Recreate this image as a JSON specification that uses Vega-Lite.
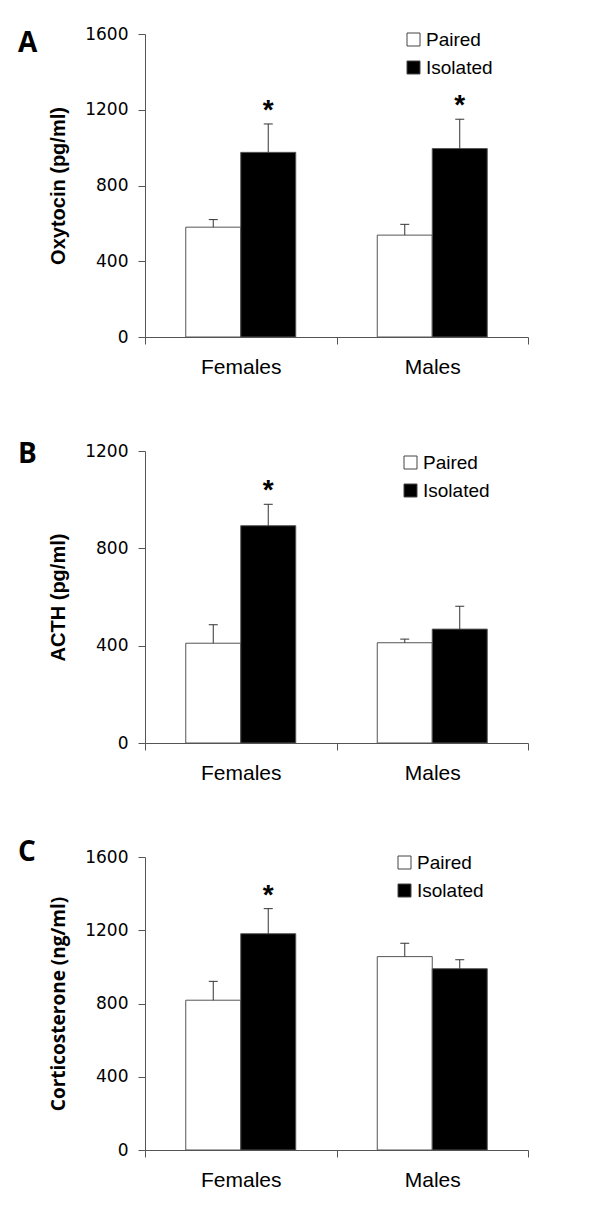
{
  "$schema": "https://vega.github.io/schema/vega-lite/v6.json",
  "background": "white",
  "padding": {"left": 18, "top": 25, "right": 5, "bottom": 5},
  "autosize": {"type": "pad"},
  "spacing": 114,
  "bounds": "flush",
  "resolve": {"scale": {"x": "independent", "y": "independent", "color": "independent"}, "legend": {"color": "independent"}},
  "config": {
    "view": {"stroke": null},
    "font": "Liberation Sans",
    "axis": {"grid": false, "domainColor": "#555", "tickColor": "#555", "labelColor": "black", "titleColor": "black", "domainWidth": 1, "tickWidth": 1},
    "axisX": {"title": null, "labelAngle": 0, "labelFont": "Liberation Sans", "labelFontSize": 21, "labelPadding": 12, "tickSize": 7, "tickBand": "extent"},
    "axisY": {"labelFont": "DejaVu Sans", "labelFontSize": 17, "labelPadding": 10, "tickSize": 7, "titleFont": "Liberation Sans", "titleFontSize": 20, "titleFontWeight": "bold", "titlePadding": 16, "format": "d"},
    "legend": {"padding": 0, "title": null, "symbolType": "square", "symbolSize": 169, "symbolStrokeColor": "#444", "symbolStrokeWidth": 1, "labelFont": "Liberation Sans", "labelFontSize": 19, "labelColor": "black", "labelOffset": 3, "rowPadding": 8, "orient": "none"}
  },
  "vconcat": [
    {
      "width": 383, "height": 303,
      "title": {"text": "A", "anchor": "start", "frame": "group", "orient": "top", "offset": 0, "dx": -127, "dy": 55, "baseline": "alphabetic", "font": "Open Sans", "fontSize": 28, "fontWeight": "bold", "color": "black"},
      "data": {"values": [
        {"sex": "Females", "group": "Paired", "mean": 580, "upper": 620, "sig": ""},
        {"sex": "Females", "group": "Isolated", "mean": 975, "upper": 1125, "sig": "*"},
        {"sex": "Males", "group": "Paired", "mean": 538, "upper": 595, "sig": ""},
        {"sex": "Males", "group": "Isolated", "mean": 995, "upper": 1150, "sig": "*"}
      ]},
      "encoding": {
        "x": {"field": "sex", "type": "nominal", "sort": ["Females", "Males"], "scale": {"paddingInner": 0, "paddingOuter": 0}},
        "xOffset": {"field": "group", "type": "nominal", "sort": ["Paired", "Isolated"], "scale": {"paddingInner": 0, "paddingOuter": 0.741}}
      },
      "layer": [
        {"mark": {"type": "bar", "stroke": "#555", "strokeWidth": 1},
         "encoding": {
           "y": {"field": "mean", "type": "quantitative", "title": "Oxytocin (pg/ml)", "scale": {"domain": [0, 1600], "nice": false}, "axis": {"values": [0, 400, 800, 1200, 1600]}},
           "color": {"field": "group", "type": "nominal", "scale": {"domain": ["Paired", "Isolated"], "range": ["white", "black"]}, "legend": {"legendX": 259, "legendY": -4}}
         }},
        {"mark": {"type": "rule", "color": "#333"},
         "encoding": {"y": {"field": "mean", "type": "quantitative", "title": "Oxytocin (pg/ml)"}, "y2": {"field": "upper"}}},
        {"mark": {"type": "tick", "color": "#333", "size": 9, "thickness": 1, "opacity": 1},
         "encoding": {"y": {"field": "upper", "type": "quantitative", "title": "Oxytocin (pg/ml)"}}},
        {"mark": {"type": "text", "fontSize": 28, "fontWeight": "bold", "dy": -5, "baseline": "alphabetic", "color": "black"},
         "encoding": {"y": {"field": "upper", "type": "quantitative", "title": "Oxytocin (pg/ml)"}, "text": {"field": "sig"}}}
      ]
    },
    {
      "width": 383, "height": 292,
      "title": {"text": "B", "anchor": "start", "frame": "group", "orient": "top", "offset": 0, "dx": -127, "dy": 49, "baseline": "alphabetic", "font": "Open Sans", "fontSize": 28, "fontWeight": "bold", "color": "black"},
      "data": {"values": [
        {"sex": "Females", "group": "Paired", "mean": 410, "upper": 486, "sig": ""},
        {"sex": "Females", "group": "Isolated", "mean": 893, "upper": 981, "sig": "*"},
        {"sex": "Males", "group": "Paired", "mean": 412, "upper": 427, "sig": ""},
        {"sex": "Males", "group": "Isolated", "mean": 468, "upper": 562, "sig": ""}
      ]},
      "encoding": {
        "x": {"field": "sex", "type": "nominal", "sort": ["Females", "Males"], "scale": {"paddingInner": 0, "paddingOuter": 0}},
        "xOffset": {"field": "group", "type": "nominal", "sort": ["Paired", "Isolated"], "scale": {"paddingInner": 0, "paddingOuter": 0.741}}
      },
      "layer": [
        {"mark": {"type": "bar", "stroke": "#555", "strokeWidth": 1},
         "encoding": {
           "y": {"field": "mean", "type": "quantitative", "title": "ACTH (pg/ml)", "scale": {"domain": [0, 1200], "nice": false}, "axis": {"values": [0, 400, 800, 1200]}},
           "color": {"field": "group", "type": "nominal", "scale": {"domain": ["Paired", "Isolated"], "range": ["white", "black"]}, "legend": {"legendX": 256, "legendY": 2}}
         }},
        {"mark": {"type": "rule", "color": "#333"},
         "encoding": {"y": {"field": "mean", "type": "quantitative", "title": "ACTH (pg/ml)"}, "y2": {"field": "upper"}}},
        {"mark": {"type": "tick", "color": "#333", "size": 9, "thickness": 1, "opacity": 1},
         "encoding": {"y": {"field": "upper", "type": "quantitative", "title": "ACTH (pg/ml)"}}},
        {"mark": {"type": "text", "fontSize": 28, "fontWeight": "bold", "dy": -5, "baseline": "alphabetic", "color": "black"},
         "encoding": {"y": {"field": "upper", "type": "quantitative", "title": "ACTH (pg/ml)"}, "text": {"field": "sig"}}}
      ]
    },
    {
      "width": 383, "height": 293,
      "title": {"text": "C", "anchor": "start", "frame": "group", "orient": "top", "offset": 0, "dx": -127, "dy": 41, "baseline": "alphabetic", "font": "Open Sans", "fontSize": 28, "fontWeight": "bold", "color": "black"},
      "data": {"values": [
        {"sex": "Females", "group": "Paired", "mean": 818, "upper": 921, "sig": ""},
        {"sex": "Females", "group": "Isolated", "mean": 1181, "upper": 1318, "sig": "*"},
        {"sex": "Males", "group": "Paired", "mean": 1056, "upper": 1129, "sig": ""},
        {"sex": "Males", "group": "Isolated", "mean": 990, "upper": 1039, "sig": ""}
      ]},
      "encoding": {
        "x": {"field": "sex", "type": "nominal", "sort": ["Females", "Males"], "scale": {"paddingInner": 0, "paddingOuter": 0}},
        "xOffset": {"field": "group", "type": "nominal", "sort": ["Paired", "Isolated"], "scale": {"paddingInner": 0, "paddingOuter": 0.741}}
      },
      "layer": [
        {"mark": {"type": "bar", "stroke": "#555", "strokeWidth": 1},
         "encoding": {
           "y": {"field": "mean", "type": "quantitative", "title": "Corticosterone (ng/ml)", "scale": {"domain": [0, 1600], "nice": false}, "axis": {"values": [0, 400, 800, 1200, 1600], "titleFont": "Open Sans", "titleFontSize": 19}},
           "color": {"field": "group", "type": "nominal", "scale": {"domain": ["Paired", "Isolated"], "range": ["white", "black"]}, "legend": {"legendX": 250, "legendY": -4}}
         }},
        {"mark": {"type": "rule", "color": "#333"},
         "encoding": {"y": {"field": "mean", "type": "quantitative", "title": "Corticosterone (ng/ml)"}, "y2": {"field": "upper"}}},
        {"mark": {"type": "tick", "color": "#333", "size": 9, "thickness": 1, "opacity": 1},
         "encoding": {"y": {"field": "upper", "type": "quantitative", "title": "Corticosterone (ng/ml)"}}},
        {"mark": {"type": "text", "fontSize": 28, "fontWeight": "bold", "dy": -5, "baseline": "alphabetic", "color": "black"},
         "encoding": {"y": {"field": "upper", "type": "quantitative", "title": "Corticosterone (ng/ml)"}, "text": {"field": "sig"}}}
      ]
    }
  ]
}
